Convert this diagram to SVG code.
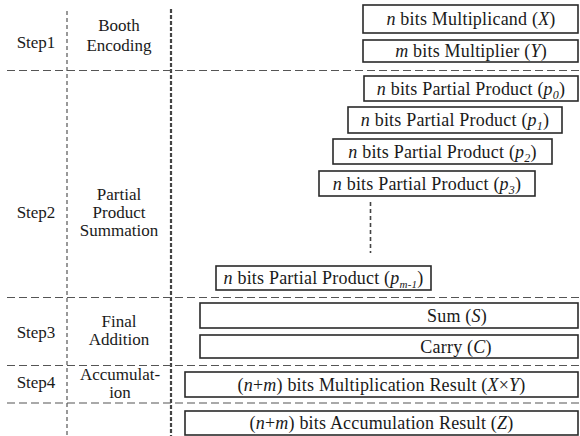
<svg xmlns="http://www.w3.org/2000/svg" width="580" height="436" viewBox="0 0 580 436">
<style>
text{font-family:'Liberation Serif','DejaVu Serif',serif;fill:#1a1a1a;}
.lbl{font-size:17px;text-anchor:middle;}
.bt{font-size:18px;text-anchor:middle;letter-spacing:0.2px;}
.box{fill:#fff;stroke:#2a2a2a;stroke-width:1.6;}
.i{font-style:italic;}
.hd{stroke:#555;stroke-width:1.2;stroke-dasharray:8 4;fill:none;}
.v1{stroke:#555;stroke-width:1.2;stroke-dasharray:4 3;fill:none;}
.v2{stroke:#444;stroke-width:2.2;stroke-dasharray:4 2;fill:none;}
</style>
<rect width="580" height="436" fill="#fff"/>
<g id="grid">
<line class="v1" x1="67" y1="11" x2="67" y2="436"/>
<line class="v2" x1="171" y1="9" x2="171" y2="436"/>
<line class="hd" x1="7" y1="70.5" x2="580" y2="70.5"/>
<line class="hd" x1="7" y1="297.5" x2="580" y2="297.5"/>
<line class="hd" x1="7" y1="365.5" x2="580" y2="365.5"/>
<line class="hd" x1="7" y1="403" x2="580" y2="403"/>
</g>
<g id="labels" font-family="Liberation Serif, serif">
<text class="lbl" x="36" y="48">Step1</text>
<text class="lbl" x="119" y="31">Booth</text>
<text class="lbl" x="119" y="51">Encoding</text>
<text class="lbl" x="36" y="218">Step2</text>
<text class="lbl" x="119" y="200">Partial</text>
<text class="lbl" x="119" y="218">Product</text>
<text class="lbl" x="119" y="236">Summation</text>
<text class="lbl" x="36" y="338">Step3</text>
<text class="lbl" x="119" y="327">Final</text>
<text class="lbl" x="119" y="345">Addition</text>
<text class="lbl" x="36" y="388">Step4</text>
<text class="lbl" x="120" y="380">Accumulat-</text>
<text class="lbl" x="120" y="398">ion</text>
</g>
<g id="connectors">
<line x1="370.5" y1="202" x2="370.5" y2="253" stroke="#444" stroke-width="1.6" stroke-dasharray="4 3"/>
</g>
<g id="multiplicand">
<rect class="box" x="363" y="5" width="215" height="28"/>
<text class="bt" x="471" y="25"><tspan class="i">n</tspan> bits Multiplicand (<tspan class="i">X</tspan>)</text>
</g>
<g id="multiplier">
<rect class="box" x="363" y="40" width="215" height="22"/>
<text class="bt" x="471" y="57"><tspan class="i">m</tspan> bits Multiplier (<tspan class="i">Y</tspan>)</text>
</g>
<g id="pp0">
<rect class="box" x="364" y="76" width="214" height="25"/>
<text class="bt" x="471" y="94.5"><tspan class="i">n</tspan> bits Partial Product (<tspan class="i">p</tspan><tspan class="i" font-size="12" dy="4">0</tspan><tspan dy="-4">)</tspan></text>
</g>
<g id="pp1">
<rect class="box" x="348" y="107" width="214" height="26"/>
<text class="bt" x="455" y="126"><tspan class="i">n</tspan> bits Partial Product (<tspan class="i">p</tspan><tspan class="i" font-size="12" dy="4">1</tspan><tspan dy="-4">)</tspan></text>
</g>
<g id="pp2">
<rect class="box" x="333" y="139" width="219" height="25"/>
<text class="bt" x="442.5" y="157.5"><tspan class="i">n</tspan> bits Partial Product (<tspan class="i">p</tspan><tspan class="i" font-size="12" dy="4">2</tspan><tspan dy="-4">)</tspan></text>
</g>
<g id="pp3">
<rect class="box" x="319" y="171" width="216" height="25"/>
<text class="bt" x="427" y="189.5"><tspan class="i">n</tspan> bits Partial Product (<tspan class="i">p</tspan><tspan class="i" font-size="12" dy="4">3</tspan><tspan dy="-4">)</tspan></text>
</g>
<g id="ppm1">
<rect class="box" x="216" y="266" width="215" height="24"/>
<text class="bt" x="323.5" y="284"><tspan class="i">n</tspan> bits Partial Product (<tspan class="i">p</tspan><tspan class="i" font-size="11" dy="4">m-1</tspan><tspan dy="-4">)</tspan></text>
</g>
<g id="sum">
<rect class="box" x="200" y="303" width="378" height="25"/>
<text class="bt" x="457" y="321.5">Sum (<tspan class="i">S</tspan>)</text>
</g>
<g id="carry">
<rect class="box" x="200" y="335" width="378" height="23"/>
<text class="bt" x="456" y="352.5">Carry (<tspan class="i">C</tspan>)</text>
</g>
<g id="mult-result">
<rect class="box" x="185" y="372" width="393" height="25"/>
<text class="bt" x="381.5" y="390.5">(<tspan class="i">n</tspan>+<tspan class="i">m</tspan>) bits Multiplication Result (<tspan class="i">X</tspan>×<tspan class="i">Y</tspan>)</text>
</g>
<g id="acc-result">
<rect class="box" x="185" y="411" width="393" height="24"/>
<text class="bt" x="381.5" y="429">(<tspan class="i">n</tspan>+<tspan class="i">m</tspan>) bits Accumulation Result (<tspan class="i">Z</tspan>)</text>
</g>
</svg>
